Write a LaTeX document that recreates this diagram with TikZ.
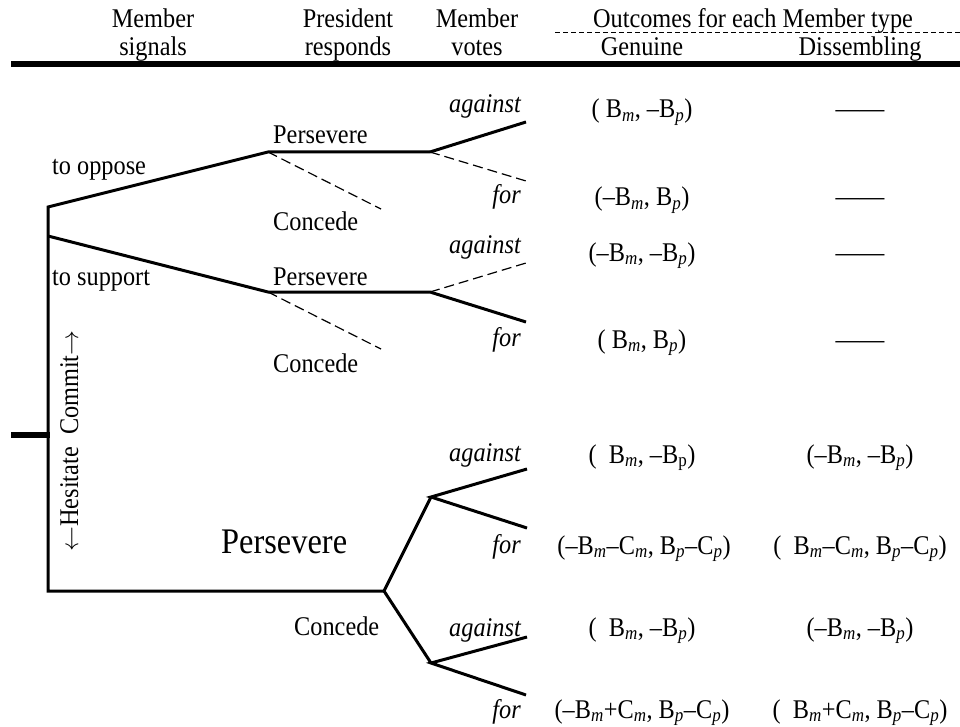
\documentclass[tikz,border=0pt]{standalone}
\usepackage{fontspec}
\setmainfont{Liberation Serif}[FakeStretch=0.9]
\usepackage{tikz}

\newcommand{\Bm}{B\textsubscript{\itshape m}}
\newcommand{\Bp}{B\textsubscript{\itshape p}}
\newcommand{\Cm}{C\textsubscript{\itshape m}}
\newcommand{\Cp}{C\textsubscript{\itshape p}}

\begin{document}
\begin{tikzpicture}[x=1pt,y=-1pt,
  every node/.style={font=\fontsize{27}{28}\selectfont,inner sep=0pt},
  tree/.style={line width=3pt,line join=miter},
  off/.style={line width=1.2pt,dash pattern=on 10pt off 5pt},
  lbl/.style={anchor=base west},
  vote/.style={anchor=base east,font=\fontsize{27}{28}\selectfont\itshape},
  pay/.style={anchor=base}]
  \useasboundingbox (0,0) rectangle (960,727);

  \node[anchor=base,align=center] (sig) at (153,56) {Member\\signals};
  \node[anchor=base,align=center] (resp) at (348,56) {President\\responds};
  \node[anchor=base,align=center] (vts) at (477,56) {Member\\votes};
  \node[anchor=base] (out) at (753,28) {Outcomes for each Member type};
  \node[anchor=base] (gen) at (642,56) {Genuine};
  \node[anchor=base] (dis) at (860,56) {Dissembling};
  \coordinate (dl) at (555,33); \coordinate (dr) at (960,33);
  \coordinate (rl) at (11,64);  \coordinate (rr) at (960,64);
  \draw[line width=1pt,dash pattern=on 5pt off 3pt] (dl) -- (dr);
  \draw[line width=6pt] (rl) -- (rr);

  \coordinate (root) at (11,435); \coordinate (stub) at (49.5,435);
  \coordinate (top) at (48,207);  \coordinate (sup) at (48,236);
  \coordinate (hes) at (48,591);
  \coordinate (p1) at (268,152);  \coordinate (v1) at (430,152);
  \coordinate (p2) at (268,292);  \coordinate (v2) at (430,292);
  \coordinate (c1) at (381,209);  \coordinate (c2) at (381,349);
  \coordinate (a1) at (526,122);  \coordinate (f1) at (526,181);
  \coordinate (a2) at (526,263);  \coordinate (f2) at (526,322);
  \coordinate (h) at (384,591);
  \coordinate (hp) at (431,497);  \coordinate (hc) at (431,663);
  \coordinate (a3) at (527,469);  \coordinate (f3) at (527,528);
  \coordinate (a4) at (527,637);  \coordinate (f4) at (526,695);

  \draw[line width=6pt] (root) -- (stub);
  \draw[tree] (v1) -- (p1) -- (top) -- (hes) -- (h);
  \draw[tree] (v1) -- (a1);
  \draw[tree] (sup) -- (p2) -- (v2) -- (f2);
  \draw[off] (p1) -- (c1);
  \draw[off] (v1) -- (f1);
  \draw[off] (p2) -- (c2);
  \draw[off] (v2) -- (a2);
  \draw[tree] (hp) -- (h) -- (hc);
  \draw[tree] (a3) -- (hp) -- (f3);
  \draw[tree] (a4) -- (hc) -- (f4);

  \node[lbl] (opp) at (52,175) {to oppose};
  \node[lbl] (spt) at (52,285) {to support};
  \node[lbl] (per1) at (273,144) {Persevere};
  \node[lbl] (con1) at (273,231) {Concede};
  \node[lbl] (per2) at (273,285) {Persevere};
  \node[lbl] (con2) at (273,372) {Concede};
  \node[lbl,font=\fontsize{36}{40}\selectfont] (per3) at (221,553) {Persevere};
  \node[lbl] (con3) at (294,635) {Concede};
  \node[anchor=base,rotate=90] (hcm) at (78,441) {$\leftarrow$Hesitate\ \ Commit$\rightarrow$};

  \node[vote] (va1) at (521,113) {against};
  \node[vote] (vf1) at (521,204) {for};
  \node[vote] (va2) at (521,254) {against};
  \node[vote] (vf2) at (521,346) {for};
  \node[vote] (va3) at (521,461) {against};
  \node[vote] (vf3) at (521,553) {for};
  \node[vote] (va4) at (521,636) {against};
  \node[vote] (vf4) at (521,718) {for};

  \node[pay] (g1) at (642,118) {( \Bm, –\Bp)};
  \node[pay] (g2) at (642,206) {(–\Bm, \Bp)};
  \node[pay] (g3) at (642,261) {(–\Bm, –\Bp)};
  \node[pay] (g4) at (642,348) {( \Bm, \Bp)};
  \foreach \y/\n in {118/d1,206/d2,261/d3,348/d4}
    \node[pay] (\n) at (860,\y) {——};

  \node[pay] (g5) at (642,463) {(~~\Bm, –B\textsubscript{p})};
  \node[pay] (g6) at (644,554) {(–\Bm–\Cm, \Bp–\Cp)};
  \node[pay] (g7) at (642,636) {(~~\Bm, –\Bp)};
  \node[pay] (g8) at (642,718) {(–\Bm+\Cm, \Bp–\Cp)};
  \node[pay] (d5) at (860,463) {(–\Bm, –\Bp)};
  \node[pay] (d6) at (860,554) {(~~\Bm–\Cm, \Bp–\Cp)};
  \node[pay] (d7) at (860,636) {(–\Bm, –\Bp)};
  \node[pay] (d8) at (860,718) {(~~\Bm+\Cm, \Bp–\Cp)};
\end{tikzpicture}
\end{document}
